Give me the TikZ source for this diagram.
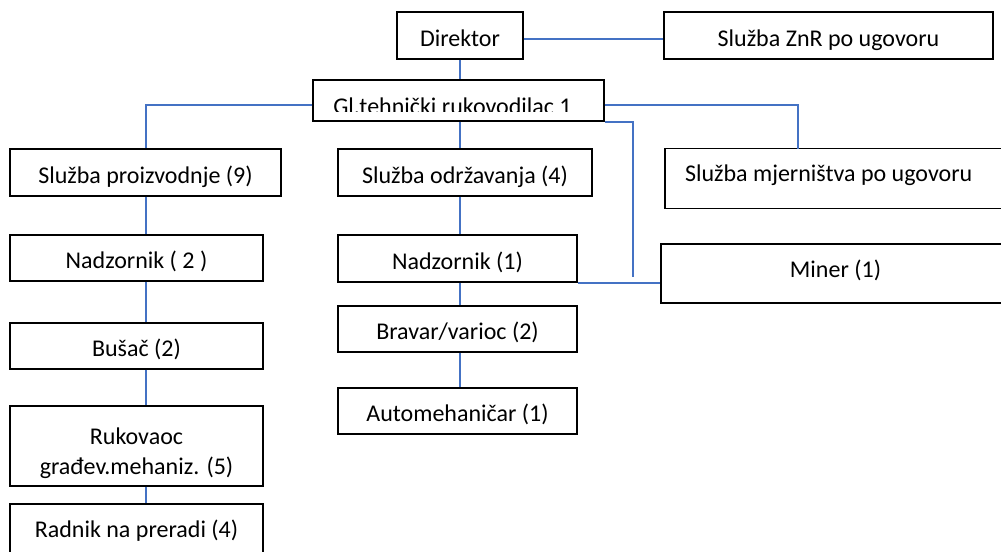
\documentclass[tikz,border=0pt]{standalone}
\usepackage{fontspec}
\setmainfont{Carlito}
\definecolor{linkblue}{HTML}{4472C4}
\tikzset{
  box/.style 2 args={draw=black, line width=1pt, minimum width=#1*0.75pt, minimum height=#2*0.75pt,
    inner sep=0pt, text height=16pt, text depth=0pt, font=\fontsize{18}{22.5}\selectfont},
  link/.style={draw=linkblue, line width=1.5pt},
}
\begin{document}
\begin{tikzpicture}[x=0.75pt,y=-0.75pt]
\useasboundingbox (0,0) rectangle (1001,551);
\clip (0,0) rectangle (1001,551);

% top
\node[box={126}{47}] (dir) at (460,35.5) {Direktor};
\node[box={329}{47}] (znr) at (828.5,35.5) {Služba ZnR po ugovoru};
\node[box={291}{41}] (gl) at (458.5,100.5) {};
\begin{scope}
\clip (313,80) rectangle (604,111.5);
\node[font=\fontsize{18}{22.5}\selectfont, inner sep=0pt, text height=18pt, text depth=0pt] (gltext) at (452.5,102) {Gl.tehnički rukovodilac 1};
\end{scope}

% second row
\node[box={271}{47}] (proiz) at (145.5,172.5) {Služba proizvodnje (9)};
\node[box={254}{47}] (odrz) at (465,172.5) {Služba održavanja (4)};
\node[box={345}{60}, text height=5.5pt] (mjer) at (837.5,178.3) {\makebox[228.75pt][l]{Služba mjerništva po ugovoru}};

% left column
\node[box={253}{46}] (nad2) at (136.5,258) {Nadzornik ( 2 )};
\node[box={253}{46}] (busac) at (136.5,346) {Bušač (2)};
\node[box={253}{80}, align=center, text height=43pt] (rukov) at (136.5,446) {Rukovaoc\\građev.mehaniz. (5)};
\node[box={253}{66}, text height=12pt, text depth=12pt] (radnik) at (136.5,537) {Radnik na preradi (4)};

% middle column
\node[box={239}{47}] (nad1) at (457.5,258.5) {Nadzornik (1)};
\node[box={239}{46}] (bravar) at (457.5,329) {Bravar/varioc (2)};
\node[box={239}{46}] (auto) at (457.5,411) {Automehaničar (1)};

% right
\node[box={349}{59}, text height=6pt] (miner) at (835.5,273.5) {Miner (1)};

\coordinate (mjtop) at (798,149);
\coordinate (mnrk) at (633,277);

% links
\draw[link] (dir.south) -- (gl.north -| dir.south);
\draw[link] ([yshift=-2.4pt]dir.east) -- ([yshift=-2.4pt]znr.west);
\draw[link] ([yshift=-3pt]gl.west) -| (proiz.north);
\draw[link] ([yshift=-3pt]gl.east) -| (mjtop);
\draw[link] (gl.south east) -| (mnrk);
\draw[link] (gl.south -| dir.south) -- (odrz.north -| dir.south);
\draw[link] (odrz.south -| dir.south) -- (nad1.north -| dir.south);
\draw[link] (nad1.south -| dir.south) -- (bravar.north -| dir.south);
\draw[link] (bravar.south -| dir.south) -- (auto.north -| dir.south);
\draw[link] (nad1.south east) -- (nad1.south east -| miner.west);
\draw[link] (proiz.south) -- (nad2.north -| proiz.south);
\draw[link] (nad2.south -| proiz.south) -- (busac.north -| proiz.south);
\draw[link] (busac.south -| proiz.south) -- (rukov.north -| proiz.south);
\draw[link] (rukov.south -| proiz.south) -- (radnik.north -| proiz.south);
\end{tikzpicture}
\end{document}
